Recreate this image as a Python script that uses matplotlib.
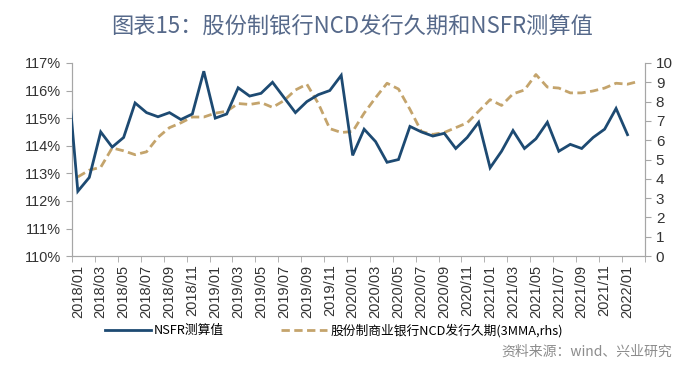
import matplotlib
matplotlib.use('Agg')
import matplotlib.pyplot as plt
from matplotlib.ticker import FixedLocator, FuncFormatter
import numpy as np
import pandas as pd

plt.rcParams['font.family'] = ['Liberation Sans', 'Noto Sans CJK SC', 'DejaVu Sans']

# monthly categories 2018/01 .. 2022/02
months = [d.strftime('%Y/%m') for d in pd.date_range('2018-01-01', '2022-02-01', freq='MS')]

# NSFR estimate (%), 2017/12 .. 2022/01 (first point sits before the axis and is clipped)
nsfr = [117.1,
        112.35, 112.85, 114.5, 113.95, 114.3, 115.55, 115.2, 115.05, 115.2, 114.95,
        115.15, 116.7, 115.0, 115.15, 116.1, 115.8, 115.9, 116.3, 115.75, 115.2,
        115.6, 115.85, 116.0, 116.55, 113.65, 114.6, 114.15, 113.4, 113.5, 114.7,
        114.5, 114.35, 114.45, 113.9, 114.3, 114.85, 113.2, 113.8, 114.55, 113.9,
        114.25, 114.85, 113.8, 114.05, 113.9, 114.3, 114.6, 115.35, 114.4]

# joint-stock bank NCD issuance duration, 3MMA (rhs), 2018/01 .. 2022/02
ncd = [4.1, 4.45, 4.6, 5.6, 5.45, 5.25, 5.4, 6.15, 6.65, 6.9,
       7.2, 7.2, 7.4, 7.5, 7.9, 7.85, 7.95, 7.7, 8.05, 8.6,
       8.9, 7.9, 6.6, 6.4, 6.45, 7.4, 8.2, 8.95, 8.65, 7.6,
       6.45, 6.3, 6.4, 6.65, 6.9, 7.5, 8.1, 7.8, 8.4, 8.6,
       9.4, 8.75, 8.7, 8.45, 8.45, 8.55, 8.7, 8.95, 8.9, 9.05]

BLUE = '#1d4a72'
GOLD = '#c4a46c'
GREY = '#a6a6a6'
TXT = '#333333'

fig = plt.figure(figsize=(7, 3.91), dpi=100)
ax = fig.add_axes([0.103, 0.345, 0.818, 0.494])
ax2 = ax.twinx()

x_nsfr = np.arange(-1, len(nsfr) - 1)
x_ncd = np.arange(len(ncd))
l1, = ax.plot(x_nsfr, nsfr, color=BLUE, lw=2.0, solid_joinstyle='miter', zorder=3)
l2, = ax2.plot(x_ncd, ncd, color=GOLD, lw=2.0, ls=(0, (3, 1.6)), zorder=2)
ax.set_zorder(ax2.get_zorder() + 1)
ax.patch.set_visible(False)

ax.set_xlim(-0.5, len(months) - 0.5)
ax.set_ylim(110, 117)
ax2.set_ylim(0, 10)

ax.set_yticks(np.arange(110, 118, 1))
ax.yaxis.set_major_formatter(FuncFormatter(lambda v, p: f'{v:.0f}%'))
ax2.set_yticks(np.arange(0, 11, 1))

lab_pos = np.arange(0, len(months), 2)
ax.xaxis.set_major_locator(FixedLocator(lab_pos))
ax.set_xticklabels([months[i] for i in lab_pos], rotation=90)
ax.xaxis.set_minor_locator(FixedLocator(np.arange(-0.5, len(months), 2)))
ax.tick_params(axis='x', which='major', length=0, pad=6, labelsize=10.5, labelcolor=TXT)
ax.tick_params(axis='x', which='minor', length=4, color=GREY, direction='out')
ax.tick_params(axis='y', length=4, color=GREY, labelsize=10.5, labelcolor=TXT, pad=4)
ax2.tick_params(axis='y', length=4, color=GREY, labelsize=11, labelcolor=TXT, pad=4)

for a in (ax, ax2):
    a.spines['top'].set_visible(False)
    for s in ('left', 'right', 'bottom'):
        a.spines[s].set_color(GREY)
        a.spines[s].set_linewidth(0.8)

fig.text(0.503, 0.93, '图表15：股份制银行NCD发行久期和NSFR测算值',
         ha='center', va='center', fontsize=16, color='#56698a',
         family=['Noto Sans CJK SC'], weight='medium')

fig.legend([l1, l2], ['NSFR测算值', '股份制商业银行NCD发行久期(3MMA,rhs)'],
           loc='center', bbox_to_anchor=(0.477, 0.155), ncol=2, frameon=False,
           prop={'family': ['Noto Sans CJK SC'], 'size': 9.2},
           handlelength=3.6, columnspacing=4.5, handletextpad=0.25)

fig.text(0.96, 0.1, '资料来源：wind、兴业研究', ha='right', va='center',
         fontsize=10, color='#8c8c8c', family=['Noto Sans CJK SC'])

fig.savefig('out.png', dpi=100)
